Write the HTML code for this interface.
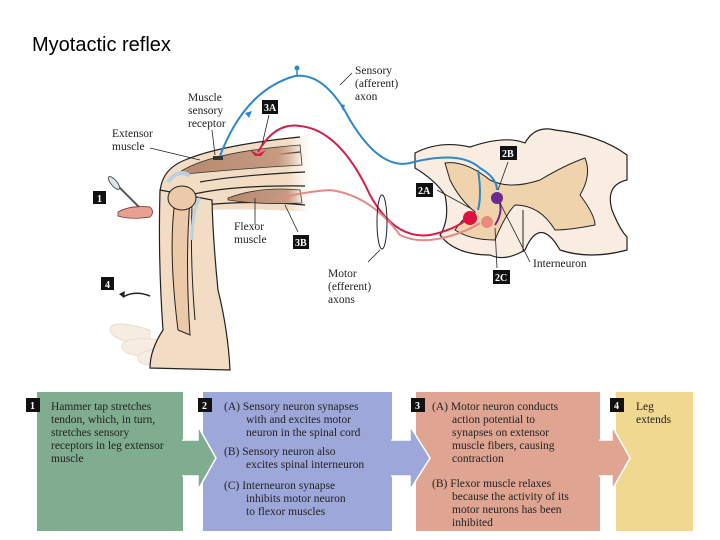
<!DOCTYPE html>
<html><head><meta charset="utf-8"><style>
html,body{margin:0;padding:0;background:#fff;width:720px;height:540px;overflow:hidden}
svg{display:block}
.s{font-family:"Liberation Serif",serif;font-size:11.5px;fill:#222}
.b{font-family:"Liberation Serif",serif;font-size:10px;font-weight:bold;fill:#fff}
</style></head><body>
<svg width="720" height="540" viewBox="0 0 720 540" xmlns="http://www.w3.org/2000/svg">
<defs>
<linearGradient id="fade" x1="0" x2="1"><stop offset="0" stop-color="#f3dcc4"/><stop offset="0.85" stop-color="#f3dcc4"/><stop offset="1" stop-color="#f3dcc4" stop-opacity="0"/></linearGradient>
<linearGradient id="mus" x1="0" x2="1"><stop offset="0" stop-color="#b88a70"/><stop offset="0.8" stop-color="#c49a80"/><stop offset="1" stop-color="#c49a80" stop-opacity="0"/></linearGradient>
</defs>
<text x="32" y="51" font-family="Liberation Sans, sans-serif" font-size="20" fill="#000">Myotactic reflex</text>

<g fill="#f7ece2" stroke="#eadccf" stroke-width="1">
<path d="M150 330 Q110 318 110 330 Q112 342 150 345 Z"/>
<path d="M160 340 Q120 335 122 348 Q126 358 165 356 Z"/>
<path d="M170 350 Q135 348 138 360 Q142 368 178 366 Z"/>
</g>
<path d="M160 195 Q160 170 185 160 Q220 145 310 135 L310 212 Q250 208 200 210 Q170 212 160 195 Z" fill="url(#fade)" stroke="none"/>
<g stroke="#222" stroke-width="1.2" fill="none">
<path d="M160 195 Q160 170 185 160 Q220 145 300 137"/>
<path d="M185 172 Q220 160 300 152"/>
<path d="M200 182 Q240 175 305 172"/>
<path d="M190 195 Q230 185 305 186"/>
<path d="M205 205 Q250 200 305 205"/>
</g>
<path d="M180 172 Q210 152 300 145 L302 165 Q250 168 185 174 Z" fill="url(#mus)" stroke="#333" stroke-width="0.8"/>
<path d="M228 198 Q260 186 300 190 L302 203 Q260 205 228 200 Z" fill="url(#mus)" stroke="#333" stroke-width="0.8"/>
<rect x="213" y="156" width="10" height="4" fill="#333"/>
<path d="M160 190 Q158 260 163 330 Q150 350 150 368 L230 370 Q228 330 218 290 Q213 240 212 200 Z" fill="#f3dcc4" stroke="#222" stroke-width="1.2"/>
<path d="M175 200 Q168 250 178 330 L190 335 Q185 260 190 200 Z" fill="#ecc9a8" stroke="#222" stroke-width="1"/>
<path d="M192 205 Q190 260 195 320" fill="none" stroke="#222" stroke-width="1"/>
<ellipse cx="182" cy="198" rx="14" ry="12" fill="#ecc9a8" stroke="#222" stroke-width="1"/>
<path d="M168 182 Q178 168 190 176" fill="none" stroke="#bcd0e0" stroke-width="4"/>
<path d="M200 198 Q192 210 192 240" fill="none" stroke="#bcd0e0" stroke-width="3"/>
<line x1="112" y1="180" x2="140" y2="208" stroke="#555" stroke-width="2"/>
<ellipse cx="114" cy="183" rx="3" ry="8" transform="rotate(-40 114 183)" fill="#dde6ef" stroke="#555"/>
<path d="M118 212 Q130 205 150 207 Q155 212 150 217 Q130 220 118 216 Z" fill="#e8a090" stroke="#7a3030" stroke-width="0.8"/>

<path d="M415 153 Q440 140 470 147 Q505 135 525 143 Q535 125 555 130 Q600 135 627 155 L627 180 Q605 185 612 210 Q620 230 627 237 L627 250 Q590 260 560 250 Q540 215 525 250 Q505 262 490 255 Q455 255 440 235 Q450 220 445 195 Q435 180 415 168 Z" fill="#f8ede0" stroke="#222" stroke-width="1.2"/>
<path d="M445 163 Q465 160 490 180 Q510 190 540 180 Q565 165 585 158 Q592 175 580 195 Q595 215 595 225 Q570 230 555 230 Q540 205 515 205 Q505 215 495 240 Q470 240 455 230 Q465 215 475 212 Q460 200 450 180 Z" fill="#efd3ac" stroke="#222" stroke-width="1"/>
<line x1="523" y1="210" x2="523" y2="252" stroke="#222"/>

<path d="M220 156 Q245 90 295 76 Q325 72 350 120 Q380 170 410 163 Q460 150 480 168 Q497 178 497 190" fill="none" stroke="#2f86c8" stroke-width="2"/>
<path d="M478 170 Q482 195 478 210" fill="none" stroke="#2f86c8" stroke-width="2"/>
<path d="M245 113 l7 -2 l-3 7 z" fill="#2f86c8"/>
<path d="M340 104 l5 1 l-2 6 z" fill="#2f86c8"/>
<line x1="297" y1="68" x2="297" y2="76" stroke="#2f86c8" stroke-width="1.5"/><circle cx="297" cy="68" r="2.5" fill="#2f86c8"/>
<path d="M258 152 Q275 122 300 126 Q340 130 370 195 Q395 240 430 235 Q455 230 470 217" fill="none" stroke="#d0204a" stroke-width="2"/>
<path d="M275 200 Q300 192 330 190 Q370 195 400 235 Q420 245 450 236 Q470 230 480 223" fill="none" stroke="#e48a88" stroke-width="2"/>
<path d="M497 195 Q505 210 495 225" fill="none" stroke="#6a2a90" stroke-width="2"/>
<g fill="#d0204a"><path d="M250 150 l8 4 l8 -4 l-5 6 l-6 0 z"/></g>
<circle cx="497" cy="198" r="6" fill="#6a2a90"/>
<circle cx="470" cy="218" r="7" fill="#e01040"/>
<circle cx="487" cy="222" r="6" fill="#e88a80"/>
<ellipse cx="382" cy="222" rx="5" ry="27" fill="none" stroke="#222" stroke-width="1"/>

<g stroke="#222" stroke-width="0.8" fill="none">
<line x1="150" y1="148" x2="200" y2="160"/>
<line x1="212" y1="130" x2="215" y2="155"/>
<line x1="269" y1="115" x2="262" y2="145"/>
<line x1="340" y1="85" x2="352" y2="73"/>
<line x1="255" y1="225" x2="255" y2="198"/>
<line x1="298" y1="232" x2="285" y2="205"/>
<line x1="368" y1="262" x2="380" y2="250"/>
<line x1="437" y1="190" x2="470" y2="208"/>
<line x1="508" y1="162" x2="498" y2="190"/>
<line x1="497" y1="268" x2="495" y2="228"/>
<line x1="530" y1="262" x2="500" y2="203"/>
</g>
<path d="M150 296 Q135 290 123 297" fill="none" stroke="#222" stroke-width="1.5"/>
<path d="M119 294 l6 -3 l-1 7 z" fill="#222"/>

<text class="s" x="355" y="74">Sensory</text><text class="s" x="355" y="87">(afferent)</text><text class="s" x="355" y="100">axon</text>
<text class="s" x="188" y="101">Muscle</text><text class="s" x="188" y="114">sensory</text><text class="s" x="188" y="127">receptor</text>
<text class="s" x="112" y="137">Extensor</text><text class="s" x="112" y="150">muscle</text>
<text class="s" x="234" y="230">Flexor</text><text class="s" x="234" y="243">muscle</text>
<text class="s" x="328" y="277">Motor</text><text class="s" x="328" y="290">(efferent)</text><text class="s" x="328" y="303">axons</text>
<text class="s" x="533" y="267">Interneuron</text>
<g>
<rect x="262" y="100" width="16" height="14" fill="#111"/><text class="b" x="264" y="111">3A</text>
<rect x="293" y="235" width="16" height="14" fill="#111"/><text class="b" x="295" y="246">3B</text>
<rect x="93" y="191" width="13" height="13" fill="#111"/><text class="b" x="97" y="202">1</text>
<rect x="101" y="277" width="13" height="13" fill="#111"/><text class="b" x="105" y="288">4</text>
<rect x="500" y="146" width="17" height="14" fill="#111"/><text class="b" x="502" y="157">2B</text>
<rect x="416" y="183" width="17" height="14" fill="#111"/><text class="b" x="418" y="194">2A</text>
<rect x="493" y="270" width="17" height="14" fill="#111"/><text class="b" x="495" y="281">2C</text>
</g>

<rect x="37" y="392" width="146" height="139" fill="#80ad90"/>
<rect x="203" y="392" width="189" height="139" fill="#9ea7da"/>
<rect x="416" y="392" width="184" height="139" fill="#e0a592"/>
<rect x="616" y="392" width="77" height="139" fill="#f0d890"/>
<path d="M183 440 L198 440 L198 426 L216 458 L198 490 L198 476 L183 476 Z" fill="#80ad90" stroke="#fff" stroke-width="1.5"/>
<rect x="180" y="441" width="5" height="34" fill="#80ad90"/>
<path d="M392 440 L410 440 L410 426 L430 458 L410 490 L410 476 L392 476 Z" fill="#9ea7da" stroke="#fff" stroke-width="1.5"/>
<rect x="389" y="441" width="5" height="34" fill="#9ea7da"/>
<path d="M600 440 L612 440 L612 426 L630 458 L612 490 L612 476 L600 476 Z" fill="#e0a592" stroke="#fff" stroke-width="1.5"/>
<rect x="597" y="441" width="5" height="34" fill="#e0a592"/>
<rect x="26" y="398" width="14" height="14" fill="#111"/><text class="b" x="30" y="409">1</text>
<rect x="198" y="398" width="14" height="14" fill="#111"/><text class="b" x="202" y="409">2</text>
<rect x="411" y="398" width="14" height="14" fill="#111"/><text class="b" x="415" y="409">3</text>
<rect x="610" y="398" width="14" height="14" fill="#111"/><text class="b" x="614" y="409">4</text>
<text class="s" x="51" y="410">Hammer tap stretches</text><text class="s" x="51" y="423">tendon, which, in turn,</text><text class="s" x="51" y="436">stretches sensory</text><text class="s" x="51" y="449">receptors in leg extensor</text><text class="s" x="51" y="462">muscle</text>
<text class="s" x="224" y="410">(A)  Sensory neuron synapses</text><text class="s" x="246" y="423">with and excites motor</text><text class="s" x="246" y="436">neuron in the spinal cord</text>
<text class="s" x="224" y="455">(B)  Sensory neuron also</text><text class="s" x="246" y="468">excites spinal interneuron</text>
<text class="s" x="224" y="489">(C)  Interneuron synapse</text><text class="s" x="246" y="502">inhibits motor neuron</text><text class="s" x="246" y="515">to flexor muscles</text>
<text class="s" x="432" y="410">(A)  Motor neuron conducts</text><text class="s" x="452" y="423">action potential to</text><text class="s" x="452" y="436">synapses on extensor</text><text class="s" x="452" y="449">muscle fibers, causing</text><text class="s" x="452" y="462">contraction</text>
<text class="s" x="432" y="487">(B)  Flexor muscle relaxes</text><text class="s" x="452" y="500">because the activity of its</text><text class="s" x="452" y="513">motor neurons has been</text><text class="s" x="452" y="526">inhibited</text>
<text class="s" x="636" y="410">Leg</text><text class="s" x="636" y="423">extends</text>
</svg>
</body></html>
